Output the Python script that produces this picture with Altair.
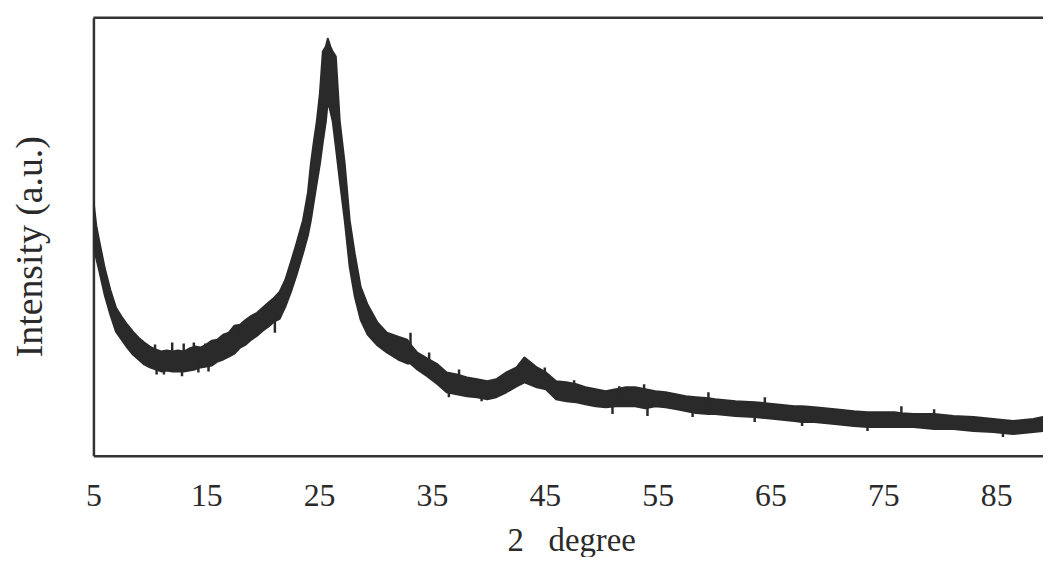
import altair as alt
import pandas as pd

# XRD trace: top and bottom edge of the noisy band (a.u.)
two_theta = [5.0, 5.25, 5.5, 6.0, 6.5, 7.0, 7.5, 8.0, 8.5, 9.0, 9.5, 10.0,
             10.5, 11.0, 11.5, 12.0, 12.5, 13.0, 13.5, 14.0, 14.5, 15.0, 15.5,
             16.0, 16.5, 17.0, 17.5, 18.0, 18.5, 19.0, 19.5, 20.0, 20.5, 21.0,
             21.5, 22.0, 22.5, 23.0, 23.57, 24.01, 24.27, 24.53, 24.8, 25.07,
             25.33, 25.6, 25.77, 26.0, 26.2, 26.48, 26.83, 27.27, 27.71, 28.15,
             28.68, 29.3, 30.18, 31.0, 32.0, 32.8, 33.1, 33.7, 34.6, 35.5, 36.3,
             37.2, 38.1, 39.0, 39.9, 40.7, 41.6, 42.5, 43.2, 44.3, 45.1, 46.0,
             46.9, 47.8, 48.6, 49.5, 50.4, 51.3, 52.2, 53.0, 53.9, 54.8, 55.7,
             56.6, 57.5, 58.4, 59.5, 60.1, 61.9, 63.6, 64.5, 65.4, 67.1, 67.8,
             68.9, 70.7, 72.4, 73.6, 74.2, 76.0, 76.6, 77.7, 79.5, 81.2, 83.0,
             84.75, 85.6, 86.5, 88.3, 89.15]
upper = [257, 232, 217, 189, 167, 149, 140, 132, 125, 119, 114, 110,
         107, 105, 106, 105, 106, 105, 108, 110, 109, 112, 116,
         117, 122, 124, 131, 132, 137, 141, 144, 149, 154, 159,
         165, 177, 195, 214, 237, 265, 294, 316, 337, 365,
         407, 412, 420, 412, 407, 402, 337, 294, 237, 204,
         170, 152, 134, 124, 120, 117, 112, 104, 98, 92, 84,
         82, 79, 77, 75, 77, 84, 89, 99, 89, 84, 75,
         74, 72, 69, 67, 65, 67, 69, 69, 67, 65, 64,
         62, 60, 59, 58, 57, 55, 54, 53, 52, 50, 50,
         49, 47, 45, 44, 44, 44, 43, 42, 42, 40, 39,
         37, 36, 35, 37, 39]
lower = [212, 199, 187, 162, 142, 125, 117, 109, 102, 97, 92, 89,
         87, 85, 86, 85, 85, 85, 86, 87, 89, 90, 91,
         95, 97, 100, 103, 109, 112, 117, 121, 126, 130, 135,
         138, 150, 165, 182, 204, 222, 237, 256, 275, 294,
         316, 337, 357, 347, 337, 311, 277, 237, 190, 161,
         137, 122, 111, 104, 97, 93, 93, 87, 80, 72, 64,
         62, 60, 59, 57, 59, 64, 70, 74, 69, 67, 57,
         55, 54, 52, 50, 49, 50, 50, 50, 48, 50, 49,
         47, 45, 43, 42, 42, 40, 39, 38, 37, 35, 34,
         34, 32, 30, 29, 29, 29, 29, 29, 27, 27, 25,
         24, 23, 22, 24, 25]

# single noise spikes sticking out of the band: position, root, tip (a.u.)
spike_theta = [10.46, 11.98, 13.0, 13.9, 14.92, 15.9, 16.8, 17.85, 18.7,
               33.1, 34.75, 37.4, 45.0, 47.6, 51.6, 53.8, 59.5, 64.5, 76.6, 79.5,
               10.6, 11.25, 12.85, 14.3, 15.2, 21.08, 36.5, 39.4, 51.0, 54.1,
               58.1, 63.6, 67.8, 73.6, 85.6]
spike_root = [99, 95, 95, 98, 100, 106, 112, 120, 125,
              105, 90, 72, 77, 63, 58, 58, 50, 46, 36, 35,
              98, 95, 95, 98, 101, 145, 74, 67, 58, 58,
              52, 46, 42, 37, 29]
spike_tip = [112, 114, 113, 114, 113, 117, 120, 129, 132,
             124, 104, 87, 89, 76, 70, 72, 64, 59, 50, 47,
             82, 82, 80, 84, 85, 124, 59, 55, 42, 40,
             39, 34, 30, 25, 19]

x_ticks = [5, 15, 25, 35, 45, 55, 65, 75, 85]

df = pd.DataFrame({'two_theta': two_theta, 'upper': upper, 'lower': lower})
df_spikes = pd.DataFrame({'two_theta': spike_theta, 'root': spike_root, 'tip': spike_tip})

INK = '#2a2a2a'
FONT = 'Liberation Serif'
W, H = 956, 441

x_scale = alt.Scale(domain=[5, 89.15], nice=False, zero=False)
y_scale = alt.Scale(domain=[0, 441], nice=False)

trace = alt.Chart(df).mark_area(
    color=INK, stroke=INK, strokeWidth=2, strokeJoin='round', clip=True
).encode(
    x=alt.X('two_theta:Q', scale=x_scale,
            axis=alt.Axis(values=x_ticks, title='2\u00a0\u00a0\u00a0degree', ticks=False, tickSize=0,
                          grid=False, labelFlush=False, labelOverlap=False,
                          labelFont=FONT, labelFontSize=32, labelColor=INK, labelPadding=25,
                          titleFont=FONT, titleFontSize=33, titleFontWeight='normal',
                          titleColor=INK, titlePadding=13, titleX=481,
                          domainColor='#333333', domainWidth=2.5)),
    y=alt.Y('upper:Q', scale=y_scale,
            axis=alt.Axis(title='Intensity (a.u.)', labels=False, ticks=False, tickSize=0,
                          grid=False, titleFont=FONT, titleFontSize=38,
                          titleFontWeight='normal', titleColor=INK, titlePadding=44,
                          titleY=230, domainColor='#333333', domainWidth=2.5)),
    y2='lower:Q'
)

spikes = alt.Chart(df_spikes).mark_rule(color=INK, strokeWidth=2.5, clip=True).encode(
    x=alt.X('two_theta:Q', scale=x_scale),
    y=alt.Y('root:Q', scale=y_scale),
    y2='tip:Q'
)

# top edge of the frame (right edge is cut off in the original)
frame_top = alt.Chart(pd.DataFrame({'k': [0]})).mark_rule(
    color='#333333', strokeWidth=2.5
).encode(x=alt.value(0), x2=alt.value(W), y=alt.value(0))

chart = (trace + spikes + frame_top).properties(
    width=W, height=H,
    autosize=alt.AutoSizeParams(type='none'),
    padding={'left': 86, 'top': 8, 'right': 0, 'bottom': 100}
).configure_view(stroke=None)

chart.save("out.html", embed_options={"renderer": "svg", "actions": False})
